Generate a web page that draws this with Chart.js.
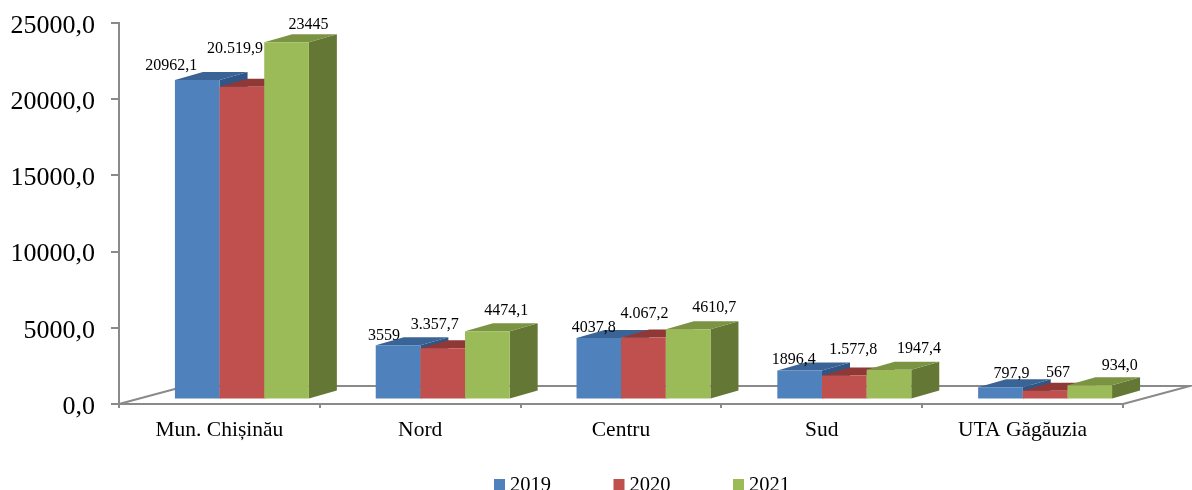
<!DOCTYPE html>
<html>
<head>
<meta charset="utf-8">
<script src="https://cdn.jsdelivr.net/npm/chart.js@4"></script>
<style>
  html, body { margin: 0; padding: 0; background: #fff; overflow: hidden; }
  canvas { display: block; }
</style>
</head>
<body>
<canvas id="chart" width="1192" height="490"></canvas>
<script>
// Data
const regions = ['Mun. Chișinău', 'Nord', 'Centru', 'Sud', 'UTA Găgăuzia'];
const values2019 = [20962.1, 3559, 4037.8, 1896.4, 797.9];
const values2020 = [20519.9, 3357.7, 4067.2, 1577.8, 567];
const values2021 = [23445, 4474.1, 4610.7, 1947.4, 934.0];
const labels2019 = ['20962,1', '3559', '4037,8', '1896,4', '797,9'];
const labels2020 = ['20.519,9', '3.357,7', '4.067,2', '1.577,8', '567'];
const labels2021 = ['23445', '4474,1', '4610,7', '1947,4', '934,0'];

// Hand placed value labels, offset from the bar's top centre [dx, dy]
const shift2019 = [[-26, -14], [-14, -9], [-5, -10], [-6, -11], [11, -14]];
const shift2020 = [[-7, -38], [-8, -24], [1, -24], [9, -26], [13, -18]];
const shift2021 = [[22, -17], [19, -21], [26, -21], [30, -21], [30, -19]];

const SERIF = '"Liberation Serif", serif';
const AXIS_COLOR = '#8a8a8a';
const BAR_DX = 22.5, BAR_DY = -4.5; // bars stand a little inside the floor
const DEPTH_X = 28, DEPTH_Y = 8;    // bar depth
const FLOOR_X = 67, FLOOR_Y = 18;   // floor depth

function makeDataset(label, values, front, side, top, texts, shifts) {
  return {
    label, data: values, backgroundColor: front, borderWidth: 0,
    sideColor: side, topColor: top, valueTexts: texts, valueShifts: shifts,
  };
}

function poly(ctx, color, pts) {
  ctx.fillStyle = color;
  ctx.beginPath();
  pts.forEach((p, i) => i ? ctx.lineTo(p[0], p[1]) : ctx.moveTo(p[0], p[1]));
  ctx.closePath();
  ctx.fill();
}

const pseudo3d = {
  id: 'pseudo3d',
  // Draws the datasets itself: left bar first, so the next bar covers its side face
  beforeDatasetsDraw(chart) {
    const { ctx, chartArea: a } = chart;
    ctx.save();
    ctx.strokeStyle = AXIS_COLOR;
    ctx.lineWidth = 2;
    ctx.beginPath();
    ctx.moveTo(a.left, a.bottom);
    ctx.lineTo(a.left + FLOOR_X, a.bottom - FLOOR_Y);
    ctx.lineTo(a.right + FLOOR_X, a.bottom - FLOOR_Y);
    ctx.lineTo(a.right, a.bottom);
    ctx.stroke();

    ctx.translate(BAR_DX, BAR_DY);
    chart.data.datasets.forEach((ds, i) => {
      const meta = chart.getDatasetMeta(i);
      meta.data.forEach((bar) => {
        const l = bar.x - bar.width / 2, r = bar.x + bar.width / 2;
        const t = bar.y, b = bar.base;
        poly(ctx, ds.sideColor, [[r, t], [r + DEPTH_X, t - DEPTH_Y], [r + DEPTH_X, b - DEPTH_Y], [r, b]]);
        poly(ctx, ds.topColor, [[l, t], [l + DEPTH_X, t - DEPTH_Y], [r + DEPTH_X, t - DEPTH_Y], [r, t]]);
      });
      meta.controller.draw();
    });

    ctx.fillStyle = '#000';
    ctx.font = '16px ' + SERIF;
    ctx.textAlign = 'center';
    ctx.textBaseline = 'middle';
    chart.data.datasets.forEach((ds, i) => {
      chart.getDatasetMeta(i).data.forEach((bar, j) => {
        const s = ds.valueShifts[j];
        ctx.fillText(ds.valueTexts[j], bar.x + s[0], bar.y + s[1]);
      });
    });
    ctx.restore();
    return false;
  },
  afterDraw(chart) {
    // legend sits tight against the bottom edge, box and text gap as in the original
    const { ctx } = chart;
    ctx.save();
    ctx.font = '20.5px ' + SERIF;
    ctx.textAlign = 'left';
    ctx.textBaseline = 'alphabetic';
    chart.data.datasets.forEach((ds, i) => {
      const x = 494 + i * 119.5;
      ctx.fillStyle = ds.backgroundColor;
      ctx.fillRect(x, 479, 11, 11);
      ctx.fillStyle = '#000';
      ctx.fillText(ds.label, x + 16, 491);
    });
    ctx.restore();
  },
};

new Chart(document.getElementById('chart').getContext('2d'), {
  type: 'bar',
  data: {
    labels: regions,
    datasets: [
      makeDataset('2019', values2019, '#4f81bd', '#2f5687', '#3a6496', labels2019, shift2019),
      makeDataset('2020', values2020, '#c0504d', '#8b3634', '#8f3836', labels2020, shift2020),
      makeDataset('2021', values2021, '#9bbb59', '#657735', '#7a9444', labels2021, shift2021),
    ],
  },
  options: {
    responsive: false,
    animation: false,
    events: [],
    layout: { padding: { left: 0, right: 69, top: 23, bottom: 0 } },
    datasets: { bar: { categoryPercentage: 0.667, barPercentage: 1 } },
    plugins: { legend: { display: false }, tooltip: { enabled: false } },
    scales: {
      x: {
        offset: true,
        afterFit: (s) => { s.height = 86; },
        border: { color: AXIS_COLOR, width: 2 },
        grid: { offset: true, drawOnChartArea: false, color: AXIS_COLOR, lineWidth: 2, tickLength: 4 },
        ticks: { color: '#000', font: { family: SERIF, size: 21.5 }, padding: 9, maxRotation: 0 },
      },
      y: {
        min: 0,
        max: 25000,
        afterFit: (s) => { s.width = 119; s.paddingTop = 0; s.paddingBottom = 0; },
        border: { color: AXIS_COLOR, width: 2 },
        grid: { drawOnChartArea: false, color: AXIS_COLOR, lineWidth: 2, tickLength: 8 },
        ticks: {
          stepSize: 5000,
          color: '#000',
          font: { family: SERIF, size: 26 },
          padding: 16,
          labelOffset: 3,
          callback: (v) => v.toFixed(1).replace('.', ','),
        },
      },
    },
  },
  plugins: [pseudo3d],
});
</script>
</body>
</html>
